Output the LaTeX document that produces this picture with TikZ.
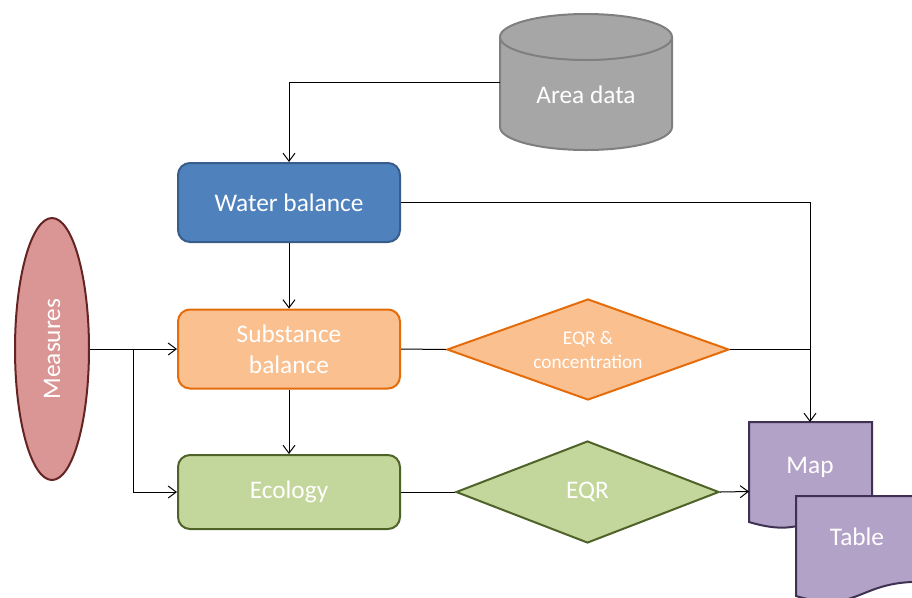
\documentclass[tikz,border=0pt]{standalone}
\usepackage{fontspec}
\setmainfont{Carlito}
\usetikzlibrary{shapes.geometric, positioning, arrows.meta}
\definecolor{wbfill}{HTML}{4F81BD}
\definecolor{wbline}{HTML}{385D8A}
\definecolor{sbfill}{HTML}{FAC090}
\definecolor{sbline}{HTML}{E46C0A}
\definecolor{ecfill}{HTML}{C3D69B}
\definecolor{ecline}{HTML}{4F6228}
\definecolor{msfill}{HTML}{D99694}
\definecolor{msline}{HTML}{632423}
\definecolor{docfill}{HTML}{B3A2C7}
\definecolor{docline}{HTML}{3F3151}
\definecolor{dbfill}{HTML}{A6A6A6}
\definecolor{dbline}{HTML}{7F7F7F}

\begin{document}
\begin{tikzpicture}[x=0.75pt, y=-0.75pt,
    box/.style={draw, line width=1.5pt, rounded corners=9pt, minimum width=166.5pt,
        minimum height=59.25pt, text=white, align=center, font=\fontsize{19}{23}\selectfont},
    decision/.style={diamond, draw, line width=1.5pt, inner sep=0pt, text=white, align=center},
    doc/.style={fill=docfill, draw=docline, line width=1.5pt},
    conn/.style={line width=0.75pt},
    >={Straight Barb[length=6pt,width=9pt]}]
        %\draw (0,0) grid[step=100] (912,597);
        \useasboundingbox (0,0) rectangle (912,597);
        \clip (0,0) rectangle (912,597);

        % area data
        \draw[fill=dbfill, draw=dbline, line width=1.5pt] (500,37) -- (500,127)
            arc[start angle=180, end angle=0, x radius=86, y radius=23] -- (672,37);
        \draw[fill=dbfill, draw=dbline, line width=1.5pt] (586,37) ellipse[x radius=86, y radius=23];
        \node[text=white, font=\fontsize{19}{23}\selectfont] (area) at (586,95) {Area data};
        \coordinate (areaw) at (500,82);

        \node[box, fill=wbfill, draw=wbline] (water) at (289,202.5) {Water balance};
        \node[box, fill=sbfill, draw=sbline] (subst) at (289,349) {Substance\\balance};
        \node[box, fill=ecfill, draw=ecline, minimum height=55.5pt] (eco) at (289,492) {Ecology};

        \node[ellipse, fill=msfill, draw=msline, line width=1.5pt, inner sep=0pt, rotate=90,
            minimum width=196.5pt, minimum height=55.5pt, text=white,
            font=\fontsize{19}{23}\selectfont] (meas) at (52,349) {Measures};

        \node[decision, fill=sbfill, draw=sbline, aspect=2.8, minimum width=211.5pt,
            minimum height=75.75pt, font=\fontsize{14.5}{18}\selectfont] (conc) at (588,349.5)
            {EQR \&\\concentration};
        \node[decision, fill=ecfill, draw=ecline, aspect=2.58, minimum width=197.25pt,
            minimum height=76.5pt, font=\fontsize{19}{23}\selectfont] (eqr) at (587.5,492) {EQR};

        % documents
        \draw[doc] (749,422) -- (872,422) -- (872,507.8)
            .. controls (810.5,507.8) and (810.5,540.4) .. (749,522) -- cycle;
        \node[text=white, font=\fontsize{19}{23}\selectfont] (map) at (810,467) {Map};
        \draw[doc] (796,496) -- (919,496) -- (919,581.8)
            .. controls (857.5,581.8) and (857.5,614.4) .. (796,596) -- cycle;
        \node[text=white, font=\fontsize{19}{23}\selectfont] (table) at (857,537) {Table};
        \coordinate (maptop) at (810,422);
        \coordinate (mapw) at (749,491.5);

        % connectors
        \draw[conn,->] (areaw) -| (water.north);
        \draw[conn,->] (water) -- (subst);
        \draw[conn,->] (subst) -- (eco);
        \draw[conn,->] (water.east) -| (maptop);
        \draw[conn] (subst.east) -- (conc.west);
        \draw[conn] (conc.east) -- (conc.east -| maptop);
        \draw[conn] (eco.east) -- (eqr.west);
        \draw[conn,->] (eqr.east) -- (mapw);
        \coordinate (split) at (133,349);
        \draw[conn,->] (meas) -- (subst.west);
        \draw[conn,->] (split) |- (eco.west);
\end{tikzpicture}
\end{document}
